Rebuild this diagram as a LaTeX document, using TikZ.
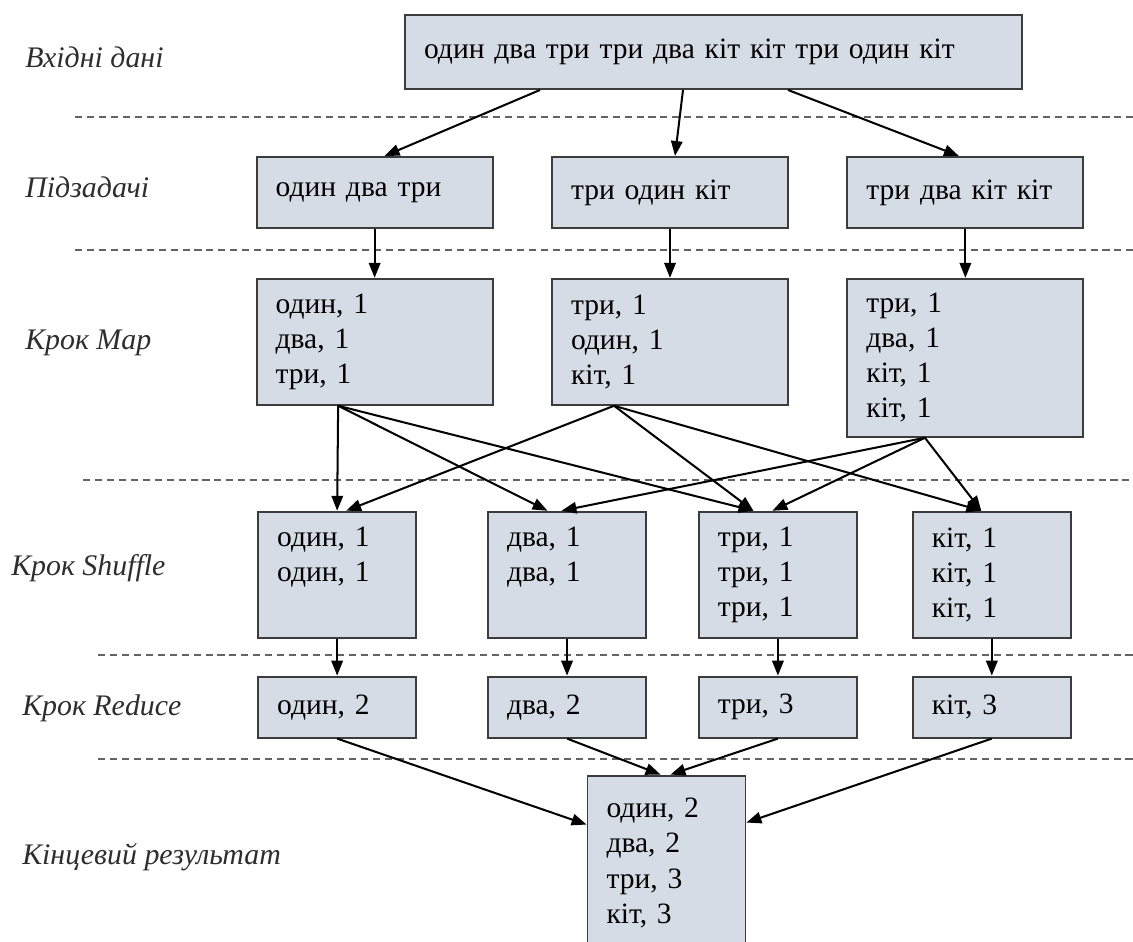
\documentclass[tikz,border=0pt]{standalone}
\usepackage{fontspec}
\setmainfont{Liberation Serif}
\usepackage{tikz}
\usetikzlibrary{arrows.meta,positioning}
\definecolor{mrfill}{RGB}{214,220,229}
\definecolor{mrdraw}{RGB}{60,60,60}
\definecolor{mrlabel}{RGB}{45,45,45}

\begin{document}
\begin{tikzpicture}[
      x=0.02cm,y=-0.02cm,
      node distance=0.98cm and 1.15cm,
      box/.style={draw=mrdraw,line width=1.1pt,fill=mrfill,align=left,inner xsep=0.38cm,
                  font=\fontsize{16.8}{20}\selectfont},
      wide/.style={box,text width=3.96cm,minimum height=2.52cm},
      narrow/.style={box,text width=2.4cm,minimum height=2.52cm},
      phase/.style={anchor=west,inner sep=0pt,text=mrlabel,font=\fontsize{17}{20}\selectfont\itshape},
      sep/.style={dashed,dash pattern=on 4pt off 2.8pt,line width=1.1pt,mrdraw!80},
      arrow/.style={-{Triangle[length=8.5pt,width=6.5pt]},line width=1.15pt}
  ]
    \useasboundingbox (0,0) rectangle (1133,941);

    \node[box,text width=11.58cm,minimum height=1.48cm] (inp) at (713.5,52) {один два три три два кіт кіт три один кіт};

    \node[wide,minimum height=1.42cm,below=1.32cm of inp,xshift=-0.87cm] (p2) {три один кіт};
    \node[wide,minimum height=1.42cm,left=of p2]  (p1) {один два три};
    \node[wide,minimum height=1.42cm,right=of p2] (p3) {три два кіт кіт};

    \node[wide,below=of p1] (m1) {один, 1\\два, 1\\три, 1};
    \node[wide,below=of p2] (m2) {три, 1\\один, 1\\кіт, 1};
    \node[wide,below=of p3,minimum height=3.16cm] (m3) {три, 1\\два, 1\\кіт, 1\\кіт, 1};

    \node[narrow,below=2.1cm of m1,xshift=-0.75cm] (s1) {один, 1\\один, 1\\\vphantom{р}};
    \node[narrow,right=1.4cm of s1]  (s2) {два, 1\\два, 1\\\vphantom{р}};
    \node[narrow,right=1.02cm of s2] (s3) {три, 1\\три, 1\\три, 1};
    \node[narrow,right=1.08cm of s3] (s4) {кіт, 1\\кіт, 1\\кіт, 1};

    \node[narrow,minimum height=1.22cm,below=0.74cm of s1] (r1) {один, 2};
    \node[narrow,minimum height=1.22cm,below=0.74cm of s2] (r2) {два, 2};
    \node[narrow,minimum height=1.22cm,below=0.74cm of s3] (r3) {три, 3};
    \node[narrow,minimum height=1.22cm,below=0.74cm of s4] (r4) {кіт, 3};

    \node[narrow,minimum height=3.5cm,below=0.72cm of r2,xshift=1.99cm] (res) {один, 2\\два, 2\\три, 3\\кіт, 3};

    \node[phase] (l1) at (25,57)  {Вхідні дані};
    \node[phase] (l2) at (25,187) {Підзадачі};
    \node[phase] (l3) at (25,343) {Крок Map};
    \node[phase] (l4) at (11,568) {Крок Shuffle};
    \node[phase] (l5) at (22,708) {Крок Reduce};
    \node[phase] (l6) at (22,857) {Кінцевий результат};

    \draw[sep] (75,117) -- (1133,117);
    \draw[sep] (75,250) -- (1133,250);
    \draw[sep] (83,480) -- (1133,480);
    \draw[sep] (98,655) -- (1133,655);
    \draw[sep] (98,759) -- (1133,759);

    \draw[arrow] ([xshift=-3.47cm]inp.south) -- ([xshift=0.2cm]p1.north);
    \draw[arrow] ([xshift=-0.61cm]inp.south) -- ([xshift=0.1cm]p2.north);
    \draw[arrow] ([xshift=1.49cm]inp.south) -- ([xshift=-0.13cm]p3.north);
    \draw[arrow] (p1) -- (m1);
    \draw[arrow] (p2) -- (m2);
    \draw[arrow] (p3) -- (m3);

    \coordinate (m1o) at ([xshift=-0.73cm]m1.south);
    \coordinate (m2o) at ([xshift=-1.12cm]m2.south);
    \coordinate (m3o) at ([xshift=-0.81cm]m3.south);
    \draw[arrow] (m1o) -- (s1.north);
    \draw[arrow] (m1o) -- ([xshift=-0.39cm]s2.north);
    \draw[arrow] (m1o) -- ([xshift=-0.49cm]s3.north);
    \draw[arrow] (m2o) -- ([xshift=0.18cm]s1.north);
    \draw[arrow] (m2o) -- ([xshift=-0.49cm]s3.north);
    \draw[arrow] (m2o) -- ([xshift=-0.21cm]s4.north);
    \draw[arrow] (m3o) -- ([xshift=-0.11cm]s2.north);
    \draw[arrow] (m3o) -- ([xshift=-0.11cm]s3.north);
    \draw[arrow] (m3o) -- ([xshift=-0.21cm]s4.north);

    \draw[arrow] (s1) -- (r1);
    \draw[arrow] (s2) -- (r2);
    \draw[arrow] (s3) -- (r3);
    \draw[arrow] (s4) -- (r4);

    \draw[arrow] (r1.south) -- ([yshift=-1cm]res.north west);
    \draw[arrow] (r2.south) -- ([xshift=-0.12cm]res.north);
    \draw[arrow] (r3.south) -- ([xshift=0.08cm]res.north);
    \draw[arrow] (r4.south) -- ([yshift=-0.96cm]res.north east);
  \end{tikzpicture}
\end{document}
